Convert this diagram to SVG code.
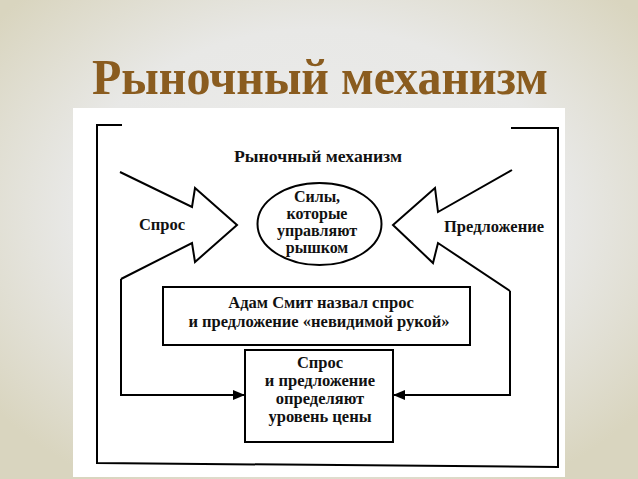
<svg xmlns="http://www.w3.org/2000/svg" width="638" height="479" viewBox="0 0 638 479">
<style>
.t{font-family:"Liberation Serif","DejaVu Serif","Times New Roman",serif;font-weight:bold;fill:#111;text-anchor:middle}
.s{fill:none;stroke:#000;stroke-width:2;stroke-linejoin:miter}
.b{fill:#fff;stroke:#000;stroke-width:2}
.h{font-family:"Liberation Serif","DejaVu Serif","Times New Roman",serif;font-weight:bold;fill:#8a5c1f;text-anchor:middle}
</style>
<defs>
<radialGradient id="bg" cx="50%" cy="45%" r="65%">
<stop offset="0" stop-color="#ececeb"/>
<stop offset="0.6" stop-color="#e8e8e6"/>
<stop offset="1" stop-color="#d9d5bf"/>
</radialGradient>
<marker id="ah" markerWidth="12" markerHeight="10" refX="11" refY="5" orient="auto" markerUnits="userSpaceOnUse">
<path d="M0,0 L12,5 L0,10 Z" fill="#000"/>
</marker>
</defs>
<rect width="638" height="479" fill="url(#bg)"/>
<text class="h" x="320" y="94" font-size="50" textLength="456" lengthAdjust="spacingAndGlyphs">Рыночный механизм</text>
<rect x="73" y="108" width="492" height="369" fill="#fff"/>
<g id="frame">
<path class="s" stroke-width="2.5" d="M122,125 H97 V463 L558,467 V128 H511"/>
</g>
<text class="t" x="318" y="162" font-size="16" textLength="168" lengthAdjust="spacingAndGlyphs">Рыночный механизм</text>
<g id="demand">
<polyline class="s" points="120,172 192,207 195,188 237,225 195,262 192,243 121,279"/>
<text class="t" x="162" y="230" font-size="16.5">Спрос</text>
</g>
<g id="supply">
<polyline class="s" points="512,170 438,212 435,188 393,225 433,263 438,243 510,291"/>
<text class="t" x="494" y="232" font-size="16.5">Предложение</text>
</g>
<g id="forces">
<ellipse class="b" cx="319.5" cy="224" rx="62" ry="41"/>
<text class="t" x="317" y="202" font-size="16">Силы,</text>
<text class="t" x="317" y="219" font-size="16">которые</text>
<text class="t" x="317" y="236" font-size="16">управляют</text>
<text class="t" x="317" y="253" font-size="16">рышком</text>
</g>
<g id="smith">
<rect class="b" x="163" y="287" width="307" height="58"/>
<text class="t" x="321" y="308" font-size="16.5">Адам Смит назвал спрос</text>
<text class="t" x="319" y="327" font-size="16.5">и предложение «невидимой рукой»</text>
</g>
<g id="price">
<rect class="b" x="245" y="350" width="148" height="92"/>
<text class="t" x="320" y="368" font-size="16.5">Спрос</text>
<text class="t" x="320" y="386" font-size="16.5">и предложение</text>
<text class="t" x="320" y="404" font-size="16.5">определяют</text>
<text class="t" x="320" y="422" font-size="16.5">уровень цены</text>
</g>
<g id="connectors">
<path class="s" d="M121,279 V395 H244" marker-end="url(#ah)"/>
<path class="s" d="M510,291 V395 H394" marker-end="url(#ah)"/>
</g>
</svg>
